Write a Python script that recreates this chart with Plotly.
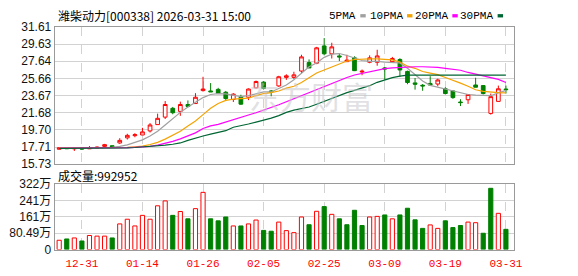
import plotly.graph_objects as go

# ---------------- data ----------------
dates = ["12-26", "12-29", "12-30", "12-31", "01-05", "01-06", "01-07", "01-08", "01-09", "01-12",
         "01-13", "01-14", "01-15", "01-16", "01-19", "01-20", "01-21", "01-22", "01-23", "01-26",
         "01-27", "01-28", "01-29", "01-30", "02-02", "02-03", "02-04", "02-05", "02-06", "02-09",
         "02-10", "02-11", "02-12", "02-13", "02-24", "02-25", "02-26", "02-27", "03-02", "03-03",
         "03-04", "03-05", "03-06", "03-09", "03-10", "03-11", "03-12", "03-13", "03-16", "03-17",
         "03-18", "03-19", "03-20", "03-23", "03-24", "03-25", "03-26", "03-27", "03-30", "03-31"]

opens = [17.45, 17.60, 17.50, 17.58, 17.50, 17.62, 17.78, 17.86, 18.18, 18.77,
         19.02, 19.10, 19.57, 20.30, 21.17, 22.19, 21.83, 22.63, 22.74, 24.24,
         24.20, 24.38, 24.05, 23.21, 23.47, 23.47, 24.56, 25.22, 24.20, 24.78,
         25.77, 25.77, 26.50, 27.48, 27.41, 29.41, 28.50, 28.25, 27.59, 28.03,
         26.39, 27.52, 27.52, 26.86, 27.59, 27.84, 26.46, 25.13, 24.86, 25.07,
         25.00, 24.45, 24.20, 22.92, 23.18, 24.89, 24.82, 21.60, 22.99, 24.42]
highs = [17.66, 17.62, 17.58, 17.60, 17.82, 17.78, 18.07, 17.88, 18.73, 19.24,
         19.31, 19.93, 20.48, 21.57, 23.03, 22.35, 22.96, 23.10, 23.94, 25.84,
         25.11, 24.56, 24.20, 23.94, 23.76, 24.49, 25.40, 25.33, 24.31, 25.95,
         26.13, 26.42, 28.39, 27.85, 29.30, 30.32, 29.78, 28.50, 28.39, 28.21,
         26.68, 28.32, 28.97, 26.97, 28.14, 27.99, 26.55, 25.70, 25.00, 25.91,
         25.62, 24.63, 24.27, 23.24, 23.79, 25.73, 24.89, 23.90, 24.82, 24.82]
lows = [17.42, 17.48, 17.25, 17.40, 17.48, 17.58, 17.71, 17.70, 18.07, 18.58,
        18.84, 19.10, 19.39, 20.30, 20.95, 21.50, 21.32, 22.30, 22.74, 24.13,
        24.09, 23.87, 23.03, 22.92, 22.59, 23.14, 24.49, 24.38, 23.58, 24.67,
        25.48, 25.59, 26.24, 26.86, 27.30, 28.32, 27.95, 27.66, 27.59, 26.50,
        26.02, 27.41, 27.12, 25.48, 27.48, 25.84, 24.98, 24.35, 24.22, 24.85,
        24.74, 23.79, 23.29, 22.45, 22.70, 24.63, 23.79, 21.46, 22.99, 23.90]
closes = [17.62, 17.52, 17.56, 17.48, 17.62, 17.68, 17.98, 17.72, 18.48, 19.06,
          19.13, 19.46, 20.26, 21.03, 22.63, 21.68, 22.63, 22.41, 23.47, 24.42,
          24.10, 23.94, 23.32, 23.83, 22.67, 24.42, 25.29, 24.49, 24.10, 25.84,
          25.95, 26.06, 28.14, 26.86, 29.19, 28.50, 29.30, 28.14, 27.77, 26.55,
          26.48, 28.03, 28.25, 26.75, 27.95, 26.63, 25.18, 24.98, 24.78, 24.88,
          25.47, 23.90, 23.43, 22.85, 23.79, 24.63, 23.90, 23.54, 24.45, 24.35]

# volume in 万 (10k shares)
volumes_wan = [45.6, 52, 57, 42, 69, 66, 66, 57, 126, 149,
               116, 168, 149, 215, 239, 168, 187, 151, 201, 281,
               151, 141, 160, 116, 116, 126, 145, 94, 90, 135,
               93, 83, 160, 122, 188, 211, 173, 151, 122, 193,
               118, 160, 163, 170, 151, 170, 203, 146, 104, 121,
               104, 141, 108, 118, 135, 132, 80, 301, 178, 99.2952]

ma5 = [17.60, 17.60, 17.59, 17.58, 17.58, 17.60, 17.62, 17.66, 17.78, 17.96,
       18.25, 18.54, 18.98, 19.53, 20.26, 20.99, 21.72, 22.33, 22.88, 23.43,
       23.79, 23.90, 23.87, 23.72, 23.54, 23.65, 23.90, 24.08, 24.08, 24.45,
       24.89, 25.50, 26.30, 27.00, 27.44, 28.09, 28.46, 28.53, 28.30, 28.00,
       27.72, 27.63, 27.62, 27.52, 27.45, 27.44, 26.82, 26.09, 25.36, 24.85,
       24.63, 24.45, 24.27, 24.01, 23.79, 23.72, 23.65, 23.65, 23.98, 24.27]
ma10 = [17.60, 17.60, 17.60, 17.60, 17.60, 17.60, 17.60, 17.61, 17.63, 17.67,
        17.74, 17.82, 18.00, 18.25, 18.62, 19.09, 19.53, 20.15, 20.73, 21.46,
        22.19, 22.74, 23.10, 23.25, 23.28, 23.36, 23.65, 23.90, 24.01, 24.19,
        24.52, 24.74, 25.17, 25.72, 26.27, 26.63, 27.00, 27.36, 27.66, 27.84,
        27.91, 27.91, 27.91, 27.88, 27.80, 27.55, 27.07, 26.82, 26.45, 26.27,
        26.09, 25.75, 25.45, 25.10, 24.74, 24.34, 24.16, 24.05, 24.01, 23.98]
ma20 = [17.58, 17.58, 17.58, 17.58, 17.58, 17.58, 17.59, 17.60, 17.61, 17.63,
        17.67, 17.71, 17.78, 17.93, 18.11, 18.36, 18.65, 18.98, 19.35, 19.86,
        20.15, 20.33, 20.62, 20.88, 21.17, 21.42, 21.68, 21.97, 22.26, 22.60,
        22.95, 23.30, 23.70, 24.05, 24.40, 24.75, 25.10, 25.45, 25.75, 26.05,
        26.25, 26.45, 26.62, 26.78, 26.88, 26.93, 27.00, 27.00, 27.00, 27.00,
        26.93, 26.82, 26.71, 26.60, 26.34, 26.16, 25.98, 25.72, 25.54, 25.17]
ma30 = [17.55, 17.55, 17.55, 17.55, 17.55, 17.55, 17.56, 17.57, 17.58, 17.60,
        17.65, 17.71, 17.74, 17.82, 17.93, 18.03, 18.18, 18.47, 18.76, 18.98,
        19.20, 19.38, 19.60, 20.00, 20.15, 20.37, 20.59, 20.81, 21.06, 21.35,
        21.72, 21.97, 22.19, 22.34, 22.66, 22.99, 23.36, 23.72, 24.01, 24.27,
        24.52, 24.81, 25.20, 25.48, 25.75, 25.92, 26.03, 26.03, 26.03, 26.03,
        26.03, 26.03, 26.03, 26.03, 26.03, 26.03, 26.03, 26.03, 26.03, 26.03]

price_ticks = [15.73, 17.71, 19.70, 21.68, 23.67, 25.66, 27.64, 29.63, 31.61]
vol_ticks = [0, 804900, 1609800, 2414700, 3219600]
vol_tick_text = ["0", "80.49万", "161万", "241万", "322万"]
date_ticks = ["12-31", "01-14", "01-26", "02-05", "02-25", "03-09", "03-19", "03-31"]

title_text = "潍柴动力[000338] 2026-03-31 15:00"
ma_names = ["5PMA", "10PMA", "20PMA", "30PMA"]
volume_label = "成交量:992952"
watermark = "东方财富"

# ---------------- style ----------------
W, H = 578, 276
RED = "#ff0000"
GREEN = "#008000"
MA_COLORS = ["#a0a0a0", "#f5a300", "#ff00ff", "#006633"]
GRID = "#d2d2d2"
BORDER = "#9a9a9a"
NUM_FONT = "Liberation Sans, Noto Sans CJK SC, sans-serif"
MONO_FONT = "Liberation Mono, DejaVu Sans Mono, monospace"
CJK_FONT = "Noto Sans CJK SC, sans-serif"

def fx(px):
    return px / W

def fy(py):
    return 1 - py / H

n = len(dates)
vol = [v * 10000 for v in volumes_wan]
vol_up = [True] + [closes[i] >= closes[i - 1] for i in range(1, n)]

fig = go.Figure()

fig.add_trace(go.Candlestick(
    x=dates, open=opens, high=highs, low=lows, close=closes,
    increasing=dict(line=dict(color=RED, width=1), fillcolor="white"),
    decreasing=dict(line=dict(color=GREEN, width=1), fillcolor=GREEN),
    whiskerwidth=0, xaxis="x", yaxis="y", showlegend=False, hoverinfo="skip",
))

for name, ma, col in zip(ma_names, [ma5, ma10, ma20, ma30], MA_COLORS):
    fig.add_trace(go.Scatter(
        x=dates, y=ma, mode="lines", name=name,
        line=dict(color=col, width=1.2), xaxis="x", yaxis="y",
        showlegend=False, hoverinfo="skip",
    ))

fig.add_trace(go.Bar(
    x=dates, y=vol, width=0.55,
    marker=dict(color=["white" if u else GREEN for u in vol_up],
                line=dict(color=[RED if u else GREEN for u in vol_up], width=1)),
    xaxis="x2", yaxis="y2", showlegend=False, hoverinfo="skip",
))

xdom = [fx(55.5), fx(522)]
common_x = dict(
    domain=xdom, type="category", range=[-0.6, 60.05],
    tickmode="array", tickvals=date_ticks, ticks="",
    showgrid=True, gridcolor=GRID, griddash="dash", gridwidth=1,
    showline=True, linecolor=BORDER, linewidth=1, mirror=True,
    zeroline=False, fixedrange=True,
)

fig.update_layout(
    width=W, height=H, margin=dict(l=0, r=0, t=0, b=0),
    paper_bgcolor="white", plot_bgcolor="white", showlegend=False,
    xaxis=dict(**common_x, anchor="y", showticklabels=False,
               rangeslider=dict(visible=False)),
    yaxis=dict(domain=[fy(165.5), fy(21)], range=[15.73, 31.61],
               tickmode="array", tickvals=price_ticks,
               ticktext=[f"{v:.2f}" for v in price_ticks],
               showgrid=True, gridcolor=GRID, gridwidth=1, ticks="",
               showline=True, linecolor=BORDER, mirror=True, zeroline=False,
               tickfont=dict(family=NUM_FONT, size=12, color="#111111"),
               fixedrange=True),
    xaxis2=dict(**common_x, anchor="y2", matches="x", showticklabels=True,
                ticklabelstandoff=3,
                tickfont=dict(family=MONO_FONT, size=11, color=RED)),
    yaxis2=dict(domain=[fy(255.5), fy(186.5)], range=[0, 3219600],
                tickmode="array", tickvals=vol_ticks, ticktext=vol_tick_text,
                showgrid=True, gridcolor=GRID, gridwidth=1, ticks="",
                showline=True, linecolor=BORDER, mirror=True, zeroline=False,
                tickfont=dict(family=NUM_FONT, size=12, color="#111111"),
                fixedrange=True),
    bargap=0.45,
)

annotations = [
    dict(text=title_text, x=fx(57), y=fy(9), xref="paper", yref="paper",
         xanchor="left", yanchor="middle", showarrow=False,
         font=dict(family=CJK_FONT, size=12, color="#000000")),
    dict(text=volume_label, x=fx(57), y=fy(177), xref="paper", yref="paper",
         xanchor="left", yanchor="middle", showarrow=False,
         font=dict(family=CJK_FONT, size=12, color="#000000")),
    dict(text=watermark, x=fx(316), y=fy(93), xref="paper", yref="paper",
         xanchor="center", yanchor="middle", showarrow=False,
         font=dict(family=CJK_FONT, size=31, color="rgba(200,200,205,0.55)")),
]
label_right = [364, 411, 457, 503]
swatch_left = [366, 413.5, 459.5, 505.5]
shapes = []
for name, col, xr, sl in zip(ma_names, MA_COLORS, label_right, swatch_left):
    annotations.append(dict(text=name, x=fx(xr), y=fy(9), xref="paper", yref="paper",
                            xanchor="right", yanchor="middle", showarrow=False,
                            font=dict(family=MONO_FONT, size=11, color="#000000")))
    shapes.append(dict(type="rect", xref="paper", yref="paper",
                       x0=fx(sl), x1=fx(sl + 5.5), y0=fy(11), y1=fy(7.5),
                       fillcolor=col, line=dict(width=0)))

fig.update_layout(annotations=annotations, shapes=shapes)

fig.write_html("out.html")
